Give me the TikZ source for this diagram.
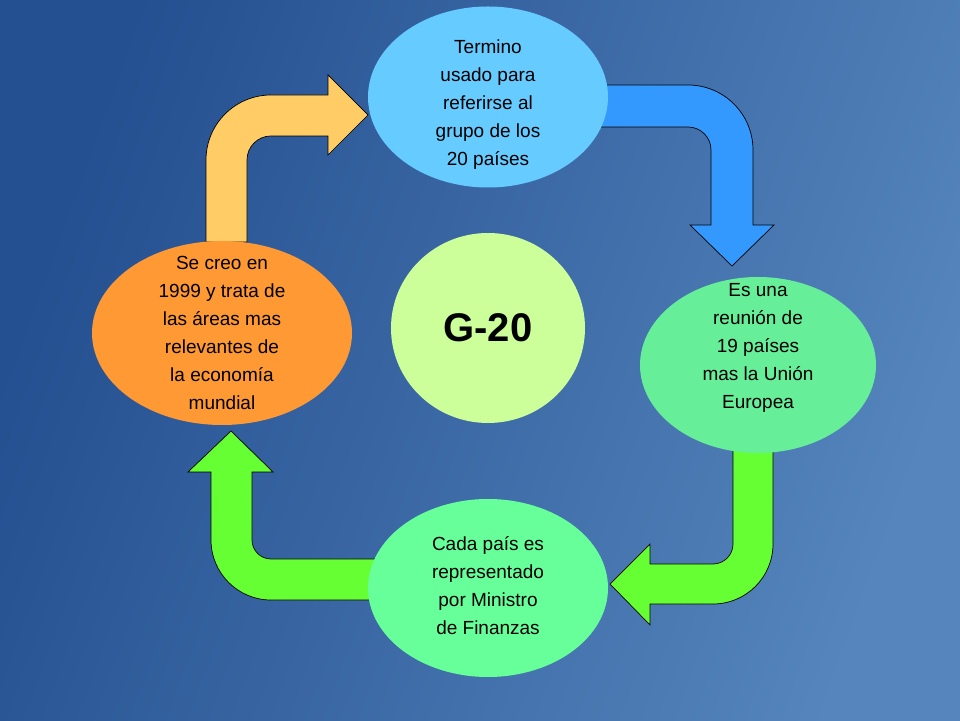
\documentclass[tikz,border=0pt]{standalone}
\usepackage{fontspec}
\setmainfont{Liberation Sans}
\usetikzlibrary{shapes.geometric}
\definecolor{bgL}{HTML}{244F90}
\definecolor{bgR}{HTML}{5585BC}
\definecolor{cTop}{HTML}{66CCFF}
\definecolor{cRight}{HTML}{66EE99}
\definecolor{cBot}{HTML}{66FF99}
\definecolor{cLeft}{HTML}{FF9933}
\definecolor{cMid}{HTML}{CCFF99}
\definecolor{aYel}{HTML}{FFCC66}
\definecolor{aBlue}{HTML}{3399FF}
\definecolor{aGreen}{HTML}{66FF33}
\tikzset{
  bub/.style={ellipse,inner sep=0pt},
  txt/.style={align=center,inner sep=0pt,font=\fontsize{19}{28}\selectfont},
  barrow/.style={draw=black,line width=0.7pt,line join=miter}
}
\begin{document}
\begin{tikzpicture}[x=1pt,y=1pt]
\useasboundingbox (0,0) rectangle (960,720);
\shade[left color=bgL,right color=bgR,shading angle=70] (0,0) rectangle (960,720);
% arrows
\draw[barrow,fill=aYel] (206,478) -- (206,560) arc[start angle=180,end angle=90,radius=65] -- (328,625) -- (328,645) -- (368,605) -- (328,565) -- (328,584) -- (271,584) arc[start angle=90,end angle=180,radius=24] -- (247,478) -- cycle;
\draw[barrow,fill=aBlue] (600,635) -- (688,635) arc[start angle=90,end angle=0,radius=65] -- (753,495) -- (774,495) -- (732,454) -- (690,495) -- (711,495) -- (711,570) arc[start angle=0,end angle=90,radius=23] -- (600,593) -- cycle;
\draw[barrow,fill=aGreen] (733,275) -- (773,275) -- (773,176) arc[start angle=0,end angle=-90,radius=60] -- (650,116) -- (650,95) -- (610,136) -- (650,176) -- (650,156) -- (713,156) arc[start angle=-90,end angle=0,radius=20] -- cycle;
\draw[barrow,fill=aGreen] (375,120) -- (271,120) arc[start angle=270,end angle=180,radius=60] -- (211,248) -- (188,248) -- (231,289) -- (273,248) -- (252,248) -- (252,180) arc[start angle=180,end angle=270,radius=19] -- (375,161) -- cycle;
% bubbles
\node[bub,fill=cTop,minimum width=240,minimum height=181] (top) at (488,623) {};
\node[txt] (topt) at (488,615) {Termino\\usado para\\referirse al\\grupo de los\\20 países};
\node[bub,fill=cRight,minimum width=236,minimum height=176] (right) at (758,355) {};
\node[txt] (rightt) at (758,372) {Es una\\reunión de\\19 países\\mas la Unión\\Europea};
\node[bub,fill=cBot,minimum width=240,minimum height=178] (bot) at (488,132) {};
\node[txt] (bott) at (488,134) {Cada país es\\representado\\por Ministro\\de Finanzas};
\node[bub,fill=cLeft,minimum width=260,minimum height=184] (left) at (222,387) {};
\node[txt] (leftt) at (222,387) {Se creo en\\1999 y trata de\\las áreas mas\\relevantes de\\la economía\\mundial};
\node[bub,fill=cMid,minimum width=194,minimum height=190,font=\fontsize{40}{48}\selectfont\bfseries] (mid) at (488,392) {G-20};
\end{tikzpicture}
\end{document}
